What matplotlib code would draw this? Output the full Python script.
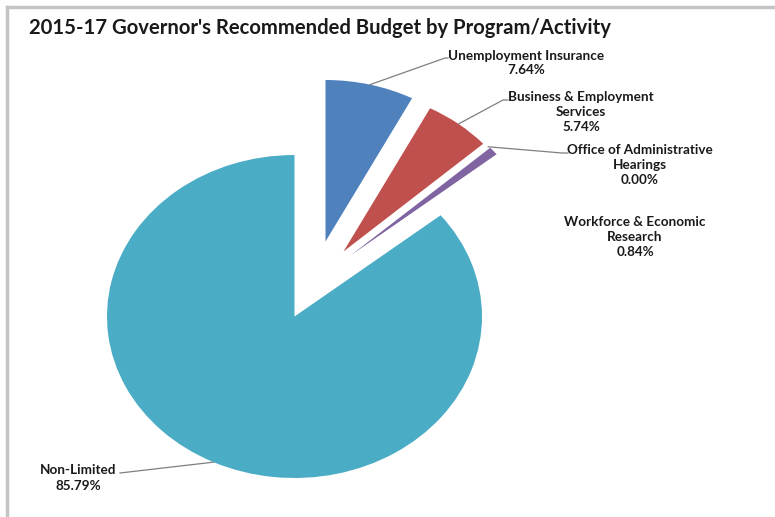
import matplotlib
matplotlib.use('Agg')
import matplotlib.pyplot as plt
import numpy as np
from matplotlib.lines import Line2D

W, H = 775, 517

programs = ['Unemployment Insurance', 'Business & Employment\nServices',
            'Office of Administrative\nHearings', 'Workforce & Economic\nResearch',
            'Non-Limited']
shares = [7.64, 5.74, 0.00, 0.84, 85.79]
colors = ['#4F81BD', '#C0504D', '#9BBB59', '#8064A2', '#4BACC6']

# pie centre and radii in pixels (the chart is squashed vertically)
CX, CY = 294.5, 316.5
RX, RY = 187.5, 161.5

# how far each slice is pulled out, in pixels (dx right, dy down)
pull = [(31, -75), (49, -65), (54, -62), (56, -61), (0, 0)]


def px(x, y):
    # pixel position (from top-left) -> data coords
    return (x - CX) / RX, (CY - y) / RY


fig = plt.figure(figsize=(W / 100, H / 100), dpi=100)
ax = fig.add_axes([0, 0, 1, 1])
wedges, _ = ax.pie(shares, colors=colors, startangle=90, counterclock=False,
                   radius=1.0, wedgeprops=dict(linewidth=0))
offsets = [(dx / RX, -dy / RY) for dx, dy in pull]
for w, (ox, oy) in zip(wedges, offsets):
    cx, cy = w.center
    w.set_center((cx + ox, cy + oy))

ax.set_aspect('auto')
x0, y0 = px(0, 0)
x1, y1 = px(W, H)
ax.set_xlim(x0, x1)
ax.set_ylim(y1, y0)
ax.axis('off')

# label placement: (text centre, elbow of leader, end of leader) in pixels
label_pos = [
    ((526, 63), (445, 58), (448, 58)),
    ((581, 112), (503, 100), (508, 100)),
    ((640, 165), (562, 153), (568, 153)),
    ((635, 237), None, None),
    ((78, 478), (120, 473), (120, 473)),
]

total = sum(shares)
start = 0.0
for name, v, (ox, oy), (tc, elbow, end) in zip(programs, shares, offsets, label_pos):
    mid = np.radians(start + v / total * 360 / 2)
    start += v / total * 360
    tx, ty = px(*tc)
    ax.text(tx, ty, f'{name}\n{v:.2f}%', ha='center', va='center',
            fontsize=9.7, fontweight='bold', family='Lato', color='#1a1a1a',
            linespacing=1.3)
    if elbow is None:
        continue
    wx = np.sin(mid) + ox
    wy = np.cos(mid) + oy
    ex_, ey_ = px(*elbow)
    fx, fy = px(*end)
    ax.plot([wx, ex_, fx], [wy, ey_, fy], color='#7f7f7f', lw=0.9,
            solid_joinstyle='miter')

fig.text(29 / W, 1 - 28 / H,
         "2015-17 Governor's Recommended Budget by Program/Activity",
         ha='left', va='center', fontsize=14.6, fontweight='bold',
         family='Lato', color='#1a1a1a')

# grey frame along the top and left
fig.add_artist(Line2D([7 / W, 1], [1 - 7 / H, 1 - 7 / H],
                      transform=fig.transFigure, color='#c4c4c4', lw=2.5))
fig.add_artist(Line2D([7 / W, 7 / W], [1 - 7 / H, 0],
                      transform=fig.transFigure, color='#c4c4c4', lw=2.5))

fig.savefig('out.png', dpi=100)
